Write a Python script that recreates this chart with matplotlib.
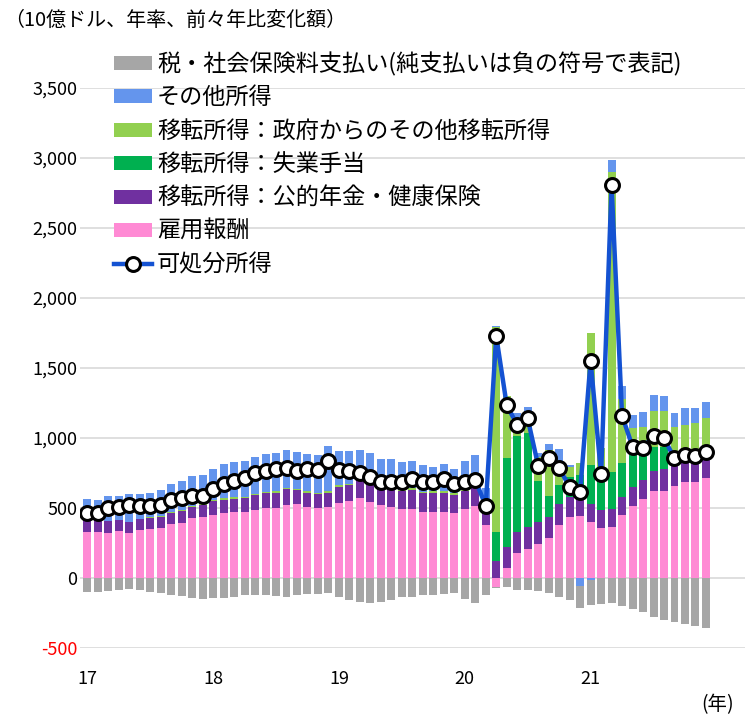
import matplotlib
matplotlib.use("Agg")
import matplotlib.pyplot as plt
import numpy as np
from matplotlib.patches import Patch
from matplotlib.lines import Line2D

plt.rcParams['font.family'] = ['Noto Sans CJK JP', 'DejaVu Sans']

# ---- data (billion USD, annualized, change vs two years earlier), monthly 2017-01 .. 2021-12
compensation = [328, 326, 324, 336, 324, 340, 350, 355, 383, 395, 426, 438,
                449, 461, 468, 474, 485, 498, 503, 523, 525, 505, 497, 509,
                535, 550, 574, 545, 521, 509, 490, 496, 474, 474, 474, 465,
                495, 514, 378, -62, 74, 181, 205, 243, 283, 378, 438, 443,
                402, 355, 362, 450, 516, 564, 624, 624, 659, 683, 688, 716]
pension = [86, 88, 85, 78, 78, 79, 81, 83, 83, 86, 83, 81,
           101, 99, 99, 100, 108, 107, 107, 114, 100, 105, 103, 100,
           117, 114, 123, 131, 114, 128, 128, 132, 131, 135, 135, 128,
           125, 150, 127, 124, 145, 150, 157, 159, 150, 150, 143, 126,
           128, 129, 128, 126, 131, 136, 142, 152, 150, 150, 155, 150]
unemployment = [0] * 36 + [0, 0, 0, 207, 635, 685, 676, 293, 152, 136, 143, 166,
                           277, 261, 269, 245, 233, 240, 172, 162, 0, 0, 0, 0]
other_transfer = [0, 0, 0, 0, 0, 0, 3, 4, 6, 6, 6, 6,
                  8, 8, 8, 8, 8, 8, 8, 8, 10, 10, 10, 10,
                  10, 10, 10, 10, 10, 10, 12, 12, 12, 12, 12, 12,
                  12, 12, 10, 1459, 445, 76, 138, 171, 329, 121, 71, 89,
                  945, 180, 2142, 459, 189, 138, 257, 257, 271, 259, 266, 274]
other_income = [148, 143, 177, 172, 196, 179, 173, 184, 197, 206, 214, 208,
                218, 244, 250, 254, 261, 270, 275, 269, 265, 267, 272, 326,
                245, 233, 207, 209, 205, 203, 196, 198, 190, 174, 193, 171,
                203, 202, 125, 9, 3, 84, 47, 24, 43, 134, 12, -55,
                -17, 0, 88, 91, 95, 110, 112, 105, 96, 119, 107, 114]
taxes = [-102, -102, -93, -86, -79, -86, -98, -105, -121, -129, -145, -150,
         -145, -145, -136, -121, -121, -121, -129, -133, -124, -114, -112, -108,
         -133, -155, -172, -176, -172, -160, -136, -133, -121, -118, -112, -105,
         -152, -176, -124, -10, -67, -86, -86, -90, -105, -138, -157, -160,
         -178, -188, -180, -200, -225, -245, -280, -300, -315, -330, -343, -358]
disposable = [462, 462, 498, 505, 521, 514, 514, 521, 557, 569, 586, 586,
              636, 669, 693, 716, 752, 764, 776, 786, 764, 776, 771, 836,
              771, 764, 752, 719, 683, 688, 688, 705, 688, 688, 705, 671,
              684, 700, 516, 1728, 1235, 1092, 1140, 802, 859, 783, 652, 616,
              1552, 740, 2806, 1159, 938, 931, 1016, 997, 854, 878, 873, 897]

year_labels = ['17', '18', '19', '20', '21']
y_ticks = [-500, 0, 500, 1000, 1500, 2000, 2500, 3000, 3500]

series_names = ['雇用報酬', '移転所得：公的年金・健康保険', '移転所得：失業手当',
                '移転所得：政府からのその他移転所得', 'その他所得',
                '税・社会保険料支払い(純支払いは負の符号で表記)']
line_name = '可処分所得'
colors = ['#FF8AD4', '#7030A0', '#00B050', '#92D050', '#6495ED', '#A6A6A6']

# ---- figure
fig = plt.figure(figsize=(7.5, 7.18), dpi=100)
ax = fig.add_axes([0.107, 0.0975, 0.886, 0.78])

x = np.arange(len(disposable))
pos_bottom = np.zeros(len(x))
neg_bottom = np.zeros(len(x))
handles = {}
for vals, name, col in zip([compensation, pension, unemployment, other_transfer, other_income, taxes],
                           series_names, colors):
    v = np.array(vals, dtype=float)
    bottom = np.where(v >= 0, pos_bottom, neg_bottom)
    ax.bar(x, v, bottom=bottom, width=0.76, color=col, linewidth=0, zorder=2)
    pos_bottom = pos_bottom + np.where(v > 0, v, 0)
    neg_bottom = neg_bottom + np.where(v < 0, v, 0)
    handles[name] = Patch(facecolor=col, edgecolor='none')

ax.plot(x, disposable, color='#1452D2', linewidth=3.2, marker='o', markersize=10,
        markerfacecolor='white', markeredgecolor='black', markeredgewidth=2.2, zorder=3)

ax.set_ylim(-500, 3500)
ax.set_xlim(-0.67, 62.7)
ax.set_yticks(y_ticks)
ax.set_yticklabels([f'{t:,}' for t in y_ticks], fontsize=13)
ax.get_yticklabels()[0].set_color('red')
ax.set_xticks([0, 12, 24, 36, 48])
ax.set_xticklabels(year_labels, fontsize=13)
ax.tick_params(axis='both', length=0)
ax.tick_params(axis='y', pad=2)
ax.tick_params(axis='x', pad=16)
ax.grid(axis='y', color='#D9D9D9', linewidth=1.2, zorder=0)
ax.set_axisbelow(True)
for s in ax.spines.values():
    s.set_visible(False)

order = ['税・社会保険料支払い(純支払いは負の符号で表記)', 'その他所得',
         '移転所得：政府からのその他移転所得', '移転所得：失業手当',
         '移転所得：公的年金・健康保険', '雇用報酬']
h = [handles[n] for n in order]
h.append(Line2D([0], [0], color='#1452D2', linewidth=3.2, marker='o', markersize=10,
                markerfacecolor='white', markeredgecolor='black', markeredgewidth=2.2))
labels = order + [line_name]
fig.legend(h, labels, loc='upper left', bbox_to_anchor=(0.152, 0.928), frameon=False,
           fontsize=16.7, handlelength=1.65, handleheight=0.55, handletextpad=0.2,
           labelspacing=0.45, borderpad=0, borderaxespad=0)

fig.text(0.005, 0.972, '（10億ドル、年率、前々年比変化額）', fontsize=14.4, va='center', ha='left')
fig.text(0.957, 0.018, '(年)', fontsize=14, va='center', ha='center')

fig.savefig('out.png', dpi=100)
